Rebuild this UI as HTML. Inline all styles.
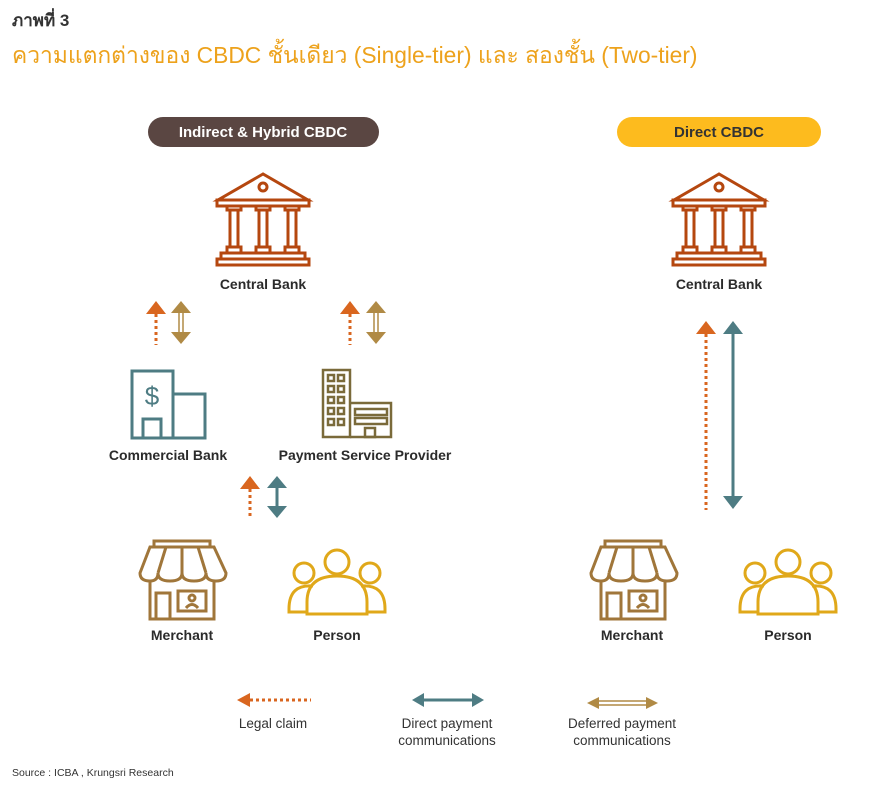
<!DOCTYPE html>
<html><head><meta charset="utf-8"><style>
body{margin:0;background:#fff;width:870px;height:796px;overflow:hidden;font-family:"Liberation Sans","Noto Sans CJK SC",sans-serif}
</style></head><body>
<svg width="870" height="796" viewBox="0 0 870 796" xmlns="http://www.w3.org/2000/svg" font-family="Liberation Sans, Noto Sans CJK SC, sans-serif">
<defs>
<g id="bank" fill="none" stroke="#B5470F" stroke-width="3">
  <path d="M0,-92 L-45,-66 L45,-66 Z"/>
  <circle cx="0" cy="-79" r="4"/>
  <rect x="-46" y="-66" width="92" height="6"/>
  <g id="col"><rect x="-36" y="-60" width="14" height="4"/><rect x="-33" y="-56" width="8" height="37"/><rect x="-36" y="-19" width="14" height="6"/></g>
  <use href="#col" x="29"/><use href="#col" x="58"/>
  <rect x="-42" y="-13" width="84" height="6"/>
  <rect x="-46" y="-7" width="92" height="6"/>
</g>
<g id="shop" fill="none" stroke="#A0763A" stroke-width="3">
  <rect x="8" y="0" width="56" height="6"/>
  <path d="M4,6 L68,6 L80,32 Q80,40 70,40 Q60,40 60,32 Q60,40 48,40 Q36,40 36,32 Q36,40 24,40 Q12,40 12,32 Q12,40 4,40 Q-6,40 -6,32 Z"/>
  <path d="M20,6 L12,32 M36,6 L36,32 M52,6 L60,32"/>
  <path d="M4,40 L4,78 L68,78 L68,40"/>
  <rect x="10" y="52" width="14" height="26"/>
  <rect x="32" y="50" width="28" height="20"/>
  <circle cx="46" cy="57" r="3"/>
  <path d="M40,67 Q46,60 52,67"/>
</g>
<g id="person" fill="none" stroke="#E0A81A" stroke-width="3">
  <circle cx="0" cy="-52" r="12"/>
  <circle cx="-33" cy="-41" r="10"/>
  <circle cx="33" cy="-41" r="10"/>
  <path d="M-24,-28 Q-48,-30 -48,-5 L-48,-2 L-30,-2"/>
  <path d="M24,-28 Q48,-30 48,-5 L48,-2 L30,-2"/>
  <path d="M-30,0 L-30,-12 Q-30,-38 0,-38 Q30,-38 30,-12 L30,0 Z"/>
</g>
</defs>

<text x="12" y="26" font-size="17" font-weight="bold" fill="#333">ภาพที่ 3</text>
<text x="12" y="63" font-size="22.8" fill="#EDA21C">ความแตกต่างของ CBDC ชั้นเดียว (Single-tier) และ สองชั้น (Two-tier)</text>

<rect x="148" y="117" width="231" height="30" rx="15" fill="#5A4642"/>
<text x="263" y="137" font-size="15" font-weight="bold" fill="#fff" text-anchor="middle">Indirect &amp; Hybrid CBDC</text>
<rect x="617" y="117" width="204" height="30" rx="15" fill="#FDBB1E"/>
<text x="719" y="137" font-size="15" font-weight="bold" fill="#333" text-anchor="middle">Direct CBDC</text>

<use href="#bank" x="263" y="266"/>
<use href="#bank" x="719" y="266"/>
<g font-size="14" font-weight="bold" fill="#2b2b2b" text-anchor="middle">
<text x="263" y="289">Central Bank</text>
<text x="719" y="289">Central Bank</text>
<text x="168" y="460">Commercial Bank</text>
<text x="365" y="460">Payment Service Provider</text>
<text x="182" y="640">Merchant</text>
<text x="337" y="640">Person</text>
<text x="632" y="640">Merchant</text>
<text x="788" y="640">Person</text>
</g>

<g fill="none" stroke="#4E7C83" stroke-width="3">
<rect x="132" y="371" width="41" height="67"/>
<path d="M173,394 L205,394 L205,438 L173,438"/>
<rect x="143" y="419" width="18" height="19"/>
</g>
<text x="152" y="405" font-size="26" fill="#4E7C83" text-anchor="middle">$</text>
<g fill="none" stroke="#7A6A3A" stroke-width="2.5">
<rect x="323" y="370" width="27" height="67"/>
<path d="M350,403 L391,403 L391,437 L350,437"/>
<rect x="328" y="375" width="6" height="6"/><rect x="338" y="375" width="6" height="6"/>
<rect x="328" y="386" width="6" height="6"/><rect x="338" y="386" width="6" height="6"/>
<rect x="328" y="397" width="6" height="6"/><rect x="338" y="397" width="6" height="6"/>
<rect x="328" y="408" width="6" height="6"/><rect x="338" y="408" width="6" height="6"/>
<rect x="328" y="419" width="6" height="6"/><rect x="338" y="419" width="6" height="6"/>
<rect x="355" y="409" width="32" height="6"/><rect x="355" y="418" width="32" height="6"/>
<rect x="365" y="428" width="10" height="9"/>
</g>

<use href="#shop" x="146" y="541"/>
<use href="#shop" x="597" y="541"/>
<use href="#person" x="337" y="614"/>
<use href="#person" x="788" y="614"/>

<g stroke="#D9661F" stroke-width="3" stroke-dasharray="3,3">
<line x1="156" y1="314" x2="156" y2="345"/>
<line x1="350" y1="314" x2="350" y2="345"/>
<line x1="250" y1="489" x2="250" y2="519"/>
<line x1="706" y1="334" x2="706" y2="510"/>
<line x1="250" y1="700" x2="311" y2="700"/>
</g>
<g fill="#D9661F">
<path d="M146,314 L156,301 L166,314 Z"/>
<path d="M340,314 L350,301 L360,314 Z"/>
<path d="M240,489 L250,476 L260,489 Z"/>
<path d="M696,334 L706,321 L716,334 Z"/>
<path d="M250,693 L237,700 L250,707 Z"/>
</g>
<g stroke="#B08A45" stroke-width="1.5" fill="none">
<line x1="179" y1="312" x2="179" y2="333"/><line x1="183" y1="312" x2="183" y2="333"/>
<line x1="374" y1="312" x2="374" y2="333"/><line x1="378" y1="312" x2="378" y2="333"/>
<line x1="598" y1="701" x2="647" y2="701"/><line x1="598" y1="705" x2="647" y2="705"/>
</g>
<g fill="#B08A45">
<path d="M171,313 L181,301 L191,313 Z"/><path d="M171,332 L181,344 L191,332 Z"/>
<path d="M366,313 L376,301 L386,313 Z"/><path d="M366,332 L376,344 L386,332 Z"/>
<path d="M599,697 L587,703 L599,709 Z"/><path d="M646,697 L658,703 L646,709 Z"/>
</g>
<g stroke="#4E7C83" stroke-width="3">
<line x1="277" y1="487" x2="277" y2="507"/>
<line x1="733" y1="333" x2="733" y2="497"/>
<line x1="423" y1="700" x2="473" y2="700"/>
</g>
<g fill="#4E7C83">
<path d="M267,488 L277,476 L287,488 Z"/><path d="M267,506 L277,518 L287,506 Z"/>
<path d="M723,334 L733,321 L743,334 Z"/><path d="M723,496 L733,509 L743,496 Z"/>
<path d="M424,693 L412,700 L424,707 Z"/><path d="M472,693 L484,700 L472,707 Z"/>
</g>

<g font-size="13.5" fill="#333" text-anchor="middle">
<text x="273" y="728">Legal claim</text>
<text x="447" y="728">Direct payment</text>
<text x="447" y="745">communications</text>
<text x="622" y="728">Deferred payment</text>
<text x="622" y="745">communications</text>
</g>
<text x="12" y="776" font-size="10.5" fill="#333">Source : ICBA , Krungsri Research</text>
</svg>
</body></html>
